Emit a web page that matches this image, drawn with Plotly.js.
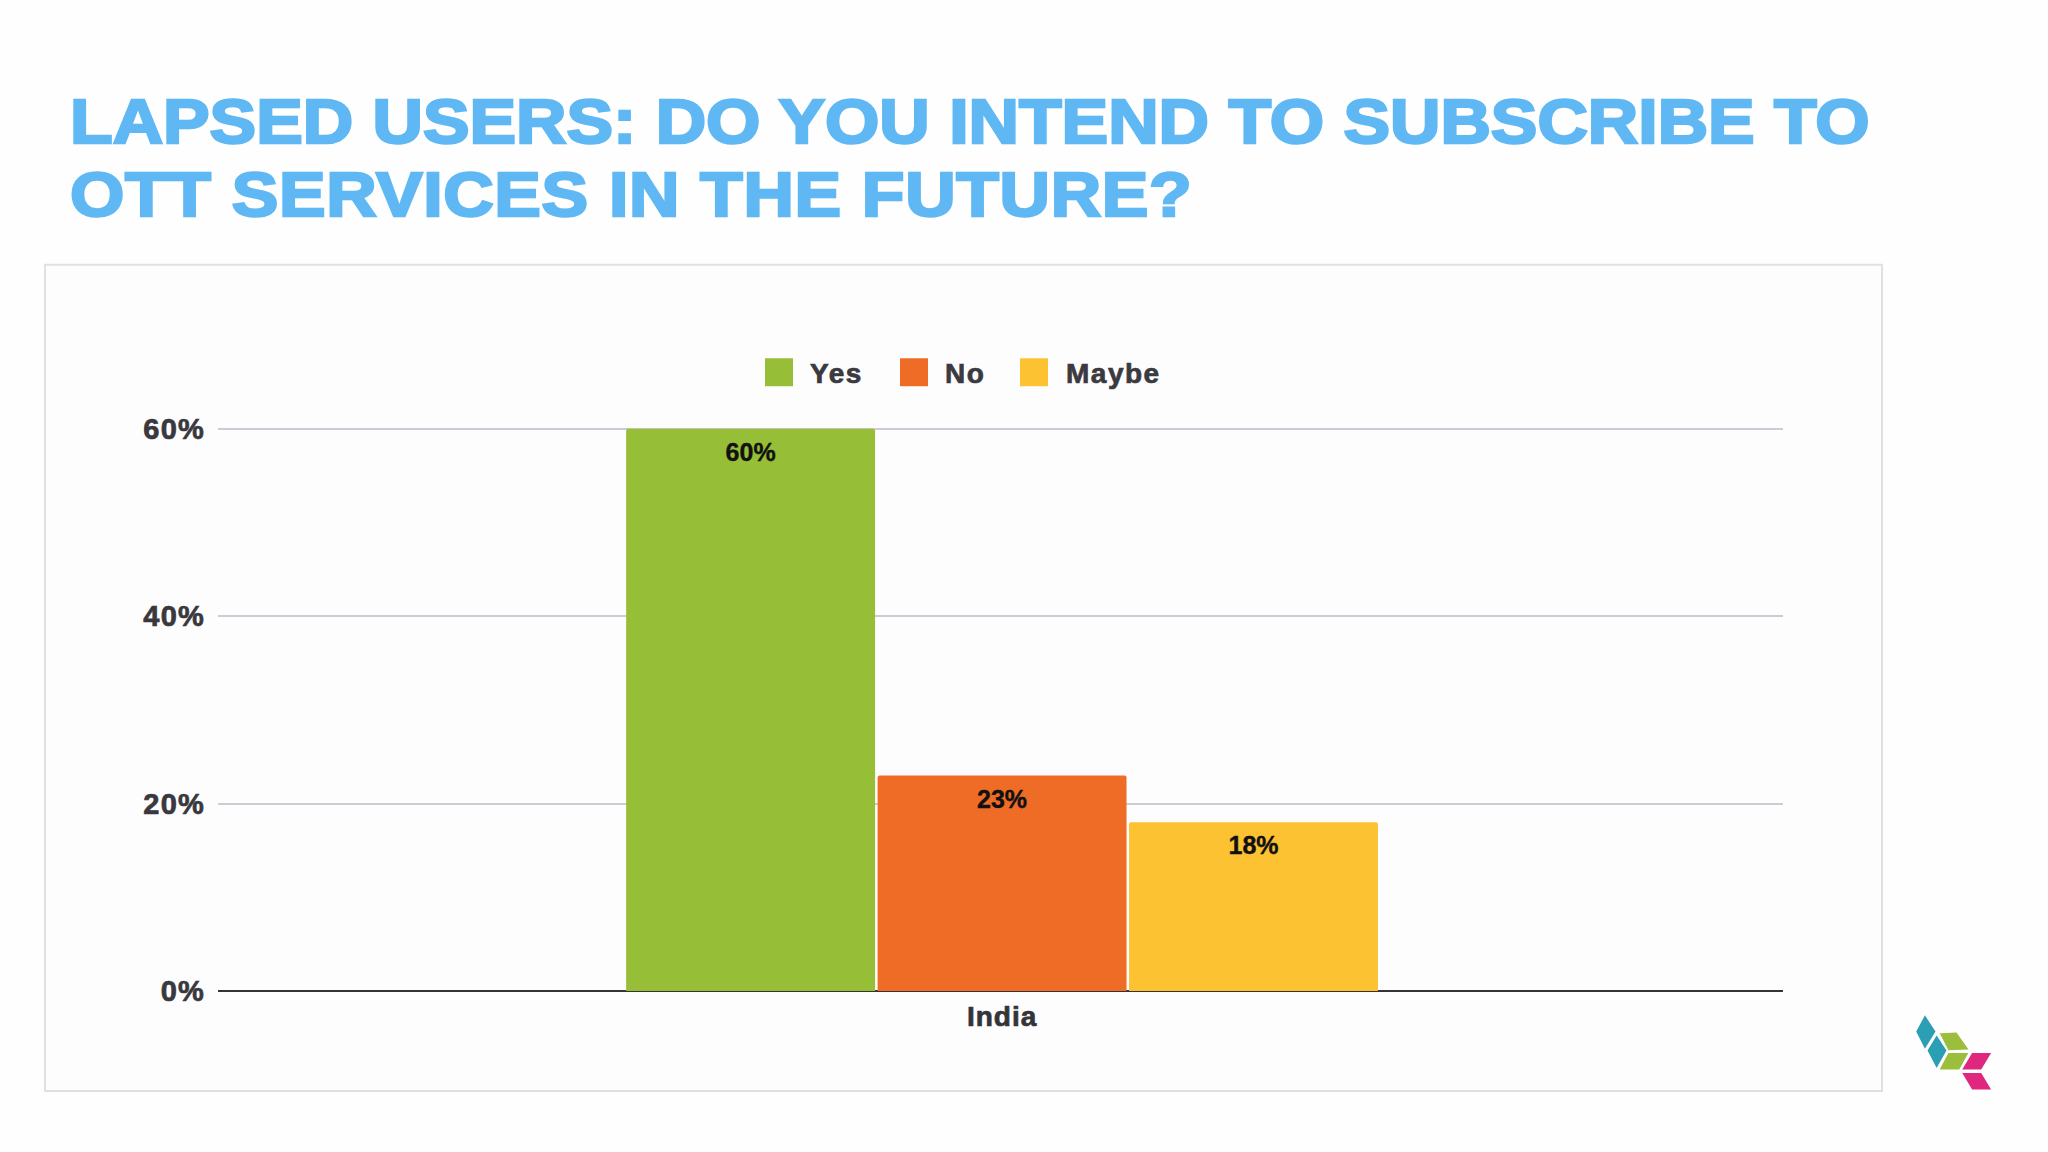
<!DOCTYPE html>
<html><head><meta charset="utf-8">
<script src="https://cdn.plot.ly/plotly-3.0.1.min.js"></script>
<style>
html,body{margin:0;padding:0;background:#fefefe}
.gtitle{stroke:#5fb8f3;stroke-width:2.4px;transform:scaleX(1.126);transform-origin:70px 0}
.legend .scrollbox{clip-path:none}
.legendpoints path{transform-box:fill-box;transform-origin:center;transform:scale(2.33)}
.legendtext{stroke:#3a3a3f;stroke-width:.7px;letter-spacing:1.5px}
.xtick text{stroke:#333338;stroke-width:.7px;letter-spacing:1px}
.ytick text{stroke:#38383d;stroke-width:.7px;letter-spacing:1.3px}
.bartext{stroke:#111;stroke-width:.4px}
</style></head><body>
<div id="chart" style="width:2048px;height:1152px"></div>
<script>
const titleText = "LAPSED USERS: DO YOU INTEND TO SUBSCRIBE TO<br>OTT SERVICES IN THE FUTURE?";
const categories = ["India"];
const seriesNames = ["Yes","No","Maybe"];
const yesValues = [60];
const noValues = [23];
const maybeValues = [18];
const seriesColors = ["#96be36","#ef6c27","#fdc231"];
const yTicks = [0,20,40,60];
const yTickLabels = ["0%","20%","40%","60%"];
const legendSwatchCentres = [779,914,1034];
const legendTextStarts = [810,945,1066];

const L=218,R=265,T=426.5,B=161,W=2048,H=1152;
const px=x=>(x-L)/(W-L-R), py=y=>(H-B-y)/(H-T-B);
const poly=(pts,c)=>({type:"path",xref:"paper",yref:"paper",layer:"above",fillcolor:c,
  line:{color:c,width:2},
  path:"M"+pts.map(p=>px(1800+p[0]/3)+" "+py(960+p[1]/3)).join("L")+"Z"});
const shapes=[
 {type:"rect",xref:"paper",yref:"paper",layer:"below",x0:px(45),x1:px(1882),y0:py(264),y1:py(1091),
  line:{color:"#e1dfe6",width:2},fillcolor:"#fefdfe"},
 poly([[375,172],[403,215],[375,260],[352,215]],"#2b9fb3"),
 poly([[410,232],[436,272],[410,318],[386,272]],"#2b9fb3"),
 poly([[424,223],[468,221],[500,266],[447,268]],"#9bbf3c"),
 poly([[447,282],[500,282],[476,326],[424,326]],"#9bbf3c"),
 poly([[518,282],[568,282],[542,326],[492,326]],"#e0277f"),
 poly([[492,342],[542,342],[568,386],[518,386]],"#e0277f")
];
const vals=[yesValues,noValues,maybeValues];
const traces=seriesNames.map((n,i)=>({type:"bar",name:n,x:categories,y:vals[i],
  marker:{color:seriesColors[i],cornerradius:2},
  text:vals[i].map(v=>v+"%"),textinfo:"text",textposition:"inside",insidetextanchor:"end",textangle:0,
  textfont:{family:"Liberation Sans",size:25,color:"#111",weight:700},
  cliponaxis:false,hoverinfo:"skip"}));
const layout={
 width:W,height:H,paper_bgcolor:"#fefefe",plot_bgcolor:"rgba(0,0,0,0)",
 margin:{l:L,r:R,t:T,b:B,pad:0},
 title:{text:titleText,x:70/W,xanchor:"left",y:1-143/H,yanchor:"top",
   font:{family:"Liberation Sans",size:62,color:"#5fb8f3",weight:700}},
 barmode:"group",bargap:0.518,bargroupgap:0.01,
 showlegend:true,
 legend:{orientation:"h",x:0.5,xanchor:"center",y:py(372),yanchor:"middle",
   font:{family:"Liberation Sans",size:28,color:"#3a3a3f",weight:700},
   itemwidth:41,traceorder:"normal",bgcolor:"rgba(0,0,0,0)"},
 xaxis:{type:"category",range:[-0.501,0.499],showgrid:false,showline:false,zeroline:false,
   ticks:"outside",ticklen:0,tickcolor:"rgba(0,0,0,0)",
   tickfont:{family:"Liberation Sans",size:28,color:"#333338",weight:700},automargin:false},
 yaxis:{range:[0,60.2],tickvals:yTicks,ticktext:yTickLabels,showgrid:true,gridcolor:"#cdcbd4",gridwidth:2,
   zeroline:true,zerolinecolor:"#333338",zerolinewidth:2,showline:false,
   ticks:"outside",ticklen:6,tickcolor:"rgba(0,0,0,0)",
   tickfont:{family:"Liberation Sans",size:29,color:"#38383d",weight:700},automargin:false},
 shapes:shapes
};
Plotly.newPlot("chart",traces,layout,{displayModeBar:false,staticPlot:true}).then(()=>{
  document.querySelectorAll(".gtitle tspan.line").forEach((t,i)=>{
    if(i>0){ t.setAttribute("dy","73px"); t.style.letterSpacing="0.6px"; } });
  document.querySelectorAll("text.bartext").forEach(t=>{
    t.setAttribute("transform","translate(0,6) "+(t.getAttribute("transform")||"")); });
  document.querySelectorAll(".legend .traces").forEach((g,i)=>{
    const swatch=g.querySelector(".legendpoints path");
    swatch.setAttribute("d","M6,6H-6V-6H6Z");
    const sw=swatch.getBoundingClientRect();
    const m=/translate\(([-\d.]+),\s*([-\d.]+)\)/.exec(g.getAttribute("transform"));
    const dx=legendSwatchCentres[i]-(sw.left+sw.width/2);
    g.setAttribute("transform","translate("+(+m[1]+dx)+","+m[2]+")");
    const tx=g.querySelector(".legendtext");
    const d=legendTextStarts[i]-tx.getBoundingClientRect().left;
    tx.setAttribute("x",(+tx.getAttribute("x"))+d);
  });
});
</script></body></html>
